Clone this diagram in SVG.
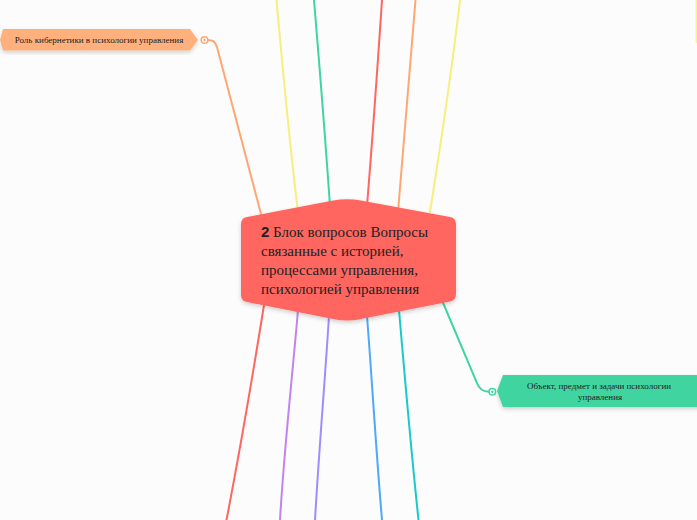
<svg xmlns="http://www.w3.org/2000/svg" width="697" height="520" viewBox="0 0 697 520">
<defs>
<style>
.c{fill:none;stroke-width:2;stroke-linecap:round}
.t{font-family:"Liberation Serif","Times New Roman",serif;fill:#222}
.s{font-family:"Liberation Serif","Times New Roman",serif;font-size:9px;fill:#222;text-anchor:middle}
</style>
<filter id="sh" x="-10%" y="-20%" width="120%" height="140%">
<feDropShadow dx="0" dy="2" stdDeviation="2" flood-color="#000" flood-opacity="0.18"/>
</filter>
</defs>
<rect width="697" height="520" fill="#fcfcfc"/>
<g id="connectors">
<path class="c" stroke="#f8ee7e" d="M276.5,0 C281,50 288,130 298,212"/>
<path class="c" stroke="#3fd5a0" d="M314,0 C319,60 324,120 330,206"/>
<path class="c" stroke="#ff6661" d="M382,0 C378,60 374,120 367,206"/>
<path class="c" stroke="#ffa673" d="M415.5,0 C411,60 406,120 398,212"/>
<path class="c" stroke="#f8ee7e" d="M460,0 C453,60 443,130 430,212"/>
<path class="c" stroke="#f8ee7e" stroke-opacity="0.8" d="M696.5,0 L696.5,42"/>
<path class="c" stroke="#ffa673" d="M207,40 C214,40 215,42 217,47 L261,214"/>
<path class="c" stroke="#3fd5a0" d="M441,298 L477,383 Q480,391.5 489,391.7"/>
<circle cx="492.3" cy="391.7" r="3.3" fill="#fff" stroke="#3fd5a0" stroke-width="1.5"/>
<circle cx="492.3" cy="391.7" r="1.2" fill="#3fd5a0"/>
<circle cx="204.5" cy="40" r="3.3" fill="#fff" stroke="#ffa673" stroke-width="1.5"/>
<circle cx="204.5" cy="40" r="1.2" fill="#ffa673"/>
<path class="c" stroke="#ff6661" d="M264,305 C252,380 240,450 226.5,520"/>
<path class="c" stroke="#c283f0" d="M298,310 C292,380 284,450 280,520"/>
<path class="c" stroke="#a08cff" d="M329,316 C325,380 319,450 315,520"/>
<path class="c" stroke="#4fa8fa" d="M367,316 C372,380 376,450 382,520"/>
<path class="c" stroke="#18c9cb" d="M399,310 C405,380 411,450 418.5,520"/>
</g>
<g id="center">
<path filter="url(#sh)" fill="#ff6661" d="M247,217 L333,200.5 Q347,198 361,200.5 L450,217 Q456,218 456,224 L456,294 Q456,300 450,301.5 L361,319 Q347,322 333,319 L247,302 Q241,301 241,295 L241,224 Q241,218 247,217 Z"/>
<text class="t" font-size="15" x="261" y="237"><tspan font-family="Liberation Sans, Arial, sans-serif" font-weight="bold">2</tspan> Блок вопросов Вопросы</text>
<text class="t" font-size="15" x="261" y="256">связанные с историей,</text>
<text class="t" font-size="15" x="261" y="275">процессами управления,</text>
<text class="t" font-size="15" x="261" y="294">психологией управления</text>
</g>
<g id="node-cybernetics">
<path filter="url(#sh)" fill="#ffb07c" d="M3,29 L190,29 L198,40 L190,50.5 L3,50.5 L0,40 Z"/>
<text class="s" x="99" y="43.3">Роль кибернетики в психологии управления</text>
</g>
<g id="node-object">
<path filter="url(#sh)" fill="#3fd5a0" d="M503,375 L700,375 L700,407 L503,407 L497,391 Z"/>
<text class="s" x="599" y="388.5">Объект, предмет и задачи психологии</text>
<text class="s" x="600" y="399.5">управления</text>
</g>
</svg>
